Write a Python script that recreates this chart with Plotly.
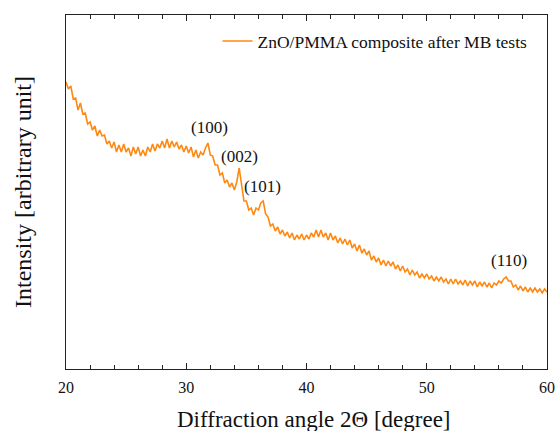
import plotly.graph_objects as go

# Diffraction angle grid (scan step 0.2 degree) and intensity (arbitrary units)
start_angle = 20.0
step = 0.2
intensity = [
    287, 280, 283, 270, 271, 259, 266, 255, 256, 245,
    247, 239, 243, 233, 239, 233, 234, 225, 228, 221,
    227, 217, 224, 217, 225, 217, 221, 213, 222, 215,
    222, 213, 219, 213, 222, 217, 225, 218, 225, 221,
    228, 221, 230, 221, 228, 222, 227, 220, 224, 217,
    223, 216, 222, 212, 219, 211, 217, 214, 221, 226,
    214, 213, 204, 204, 194, 196, 186, 189, 182, 186,
    179, 187, 201, 182, 168, 168, 159, 161, 154, 161,
    159, 166, 168, 155, 152, 143, 145, 138, 142, 135,
    139, 133, 137, 131, 136, 129, 134, 130, 135, 129,
    134, 130, 136, 132, 139, 132, 139, 132, 136, 129,
    136, 129, 133, 126, 131, 125, 130, 124, 129, 121,
    125, 118, 124, 116, 120, 114, 118, 109, 113, 107,
    111, 104, 109, 103, 108, 103, 107, 100, 104, 98,
    103, 97, 100, 94, 99, 94, 97, 91, 95, 91,
    95, 90, 93, 88, 92, 88, 92, 87, 90, 85,
    90, 85, 90, 85, 88, 84, 89, 83, 88, 84,
    88, 82, 87, 83, 87, 82, 86, 81, 86, 84,
    88, 86, 90, 92, 88, 88, 82, 84, 79, 83,
    78, 82, 77, 81, 77, 81, 77, 80, 76, 80,
    77,
]
angles = [round(start_angle + step * i, 1) for i in range(len(intensity))]

peak_labels = ["(100)", "(002)", "(101)", "(110)"]
peak_label_x = [31.9, 34.45, 36.3, 56.8]
peak_label_y = [242, 213, 183, 109]

x_ticks = [20, 30, 40, 50, 60]

FONT = "Liberation Serif, Times New Roman, serif"
ORANGE = "#FF8811"
INK = "#111111"

fig = go.Figure()
fig.add_trace(go.Scatter(
    x=angles, y=intensity, mode="lines",
    line=dict(color=ORANGE, width=1.6),
    name="ZnO/PMMA composite after MB tests",
))

for lab, lx, ly in zip(peak_labels, peak_label_x, peak_label_y):
    fig.add_annotation(x=lx, y=ly, text=lab, showarrow=False,
                       font=dict(family=FONT, size=17, color=INK))

# x-axis title (placed as paper annotation, slightly right of centre as in the original)
fig.add_annotation(xref="paper", yref="paper", x=0.516, y=-0.144,
                   xanchor="center", yanchor="middle", showarrow=False,
                   text="Diffraction angle 2Θ [degree]",
                   font=dict(family=FONT, size=23, color=INK))

fig.update_layout(
    width=556, height=431,
    margin=dict(l=66, r=9, t=15, b=62),
    plot_bgcolor="white", paper_bgcolor="white",
    font=dict(family=FONT, color=INK),
    showlegend=True,
    legend=dict(x=0.315, y=0.977, xanchor="left", yanchor="top",
                bgcolor="rgba(0,0,0,0)", borderwidth=0,
                font=dict(family=FONT, size=17.5, color=INK)),
    xaxis=dict(
        range=[20, 60], tickvals=x_ticks, ticks="inside", ticklen=6,
        tickwidth=1, tickcolor="#222", showline=True, linecolor="#222",
        linewidth=1.3, mirror="ticks", showgrid=False, zeroline=False,
        automargin=False, ticklabelstandoff=4,
        tickfont=dict(family=FONT, size=16, color=INK),
        minor=dict(dtick=2, ticks="inside", ticklen=4, tickcolor="#222", showgrid=False),
    ),
    yaxis=dict(
        range=[0, 354], showticklabels=False, ticks="", showline=True,
        linecolor="#222", linewidth=1.3, mirror=True, showgrid=False,
        zeroline=False, automargin=False,
        title=dict(text="Intensity [arbitrary unit]",
                   font=dict(family=FONT, size=24, color=INK), standoff=26),
    ),
)

fig.write_html("out.html")
